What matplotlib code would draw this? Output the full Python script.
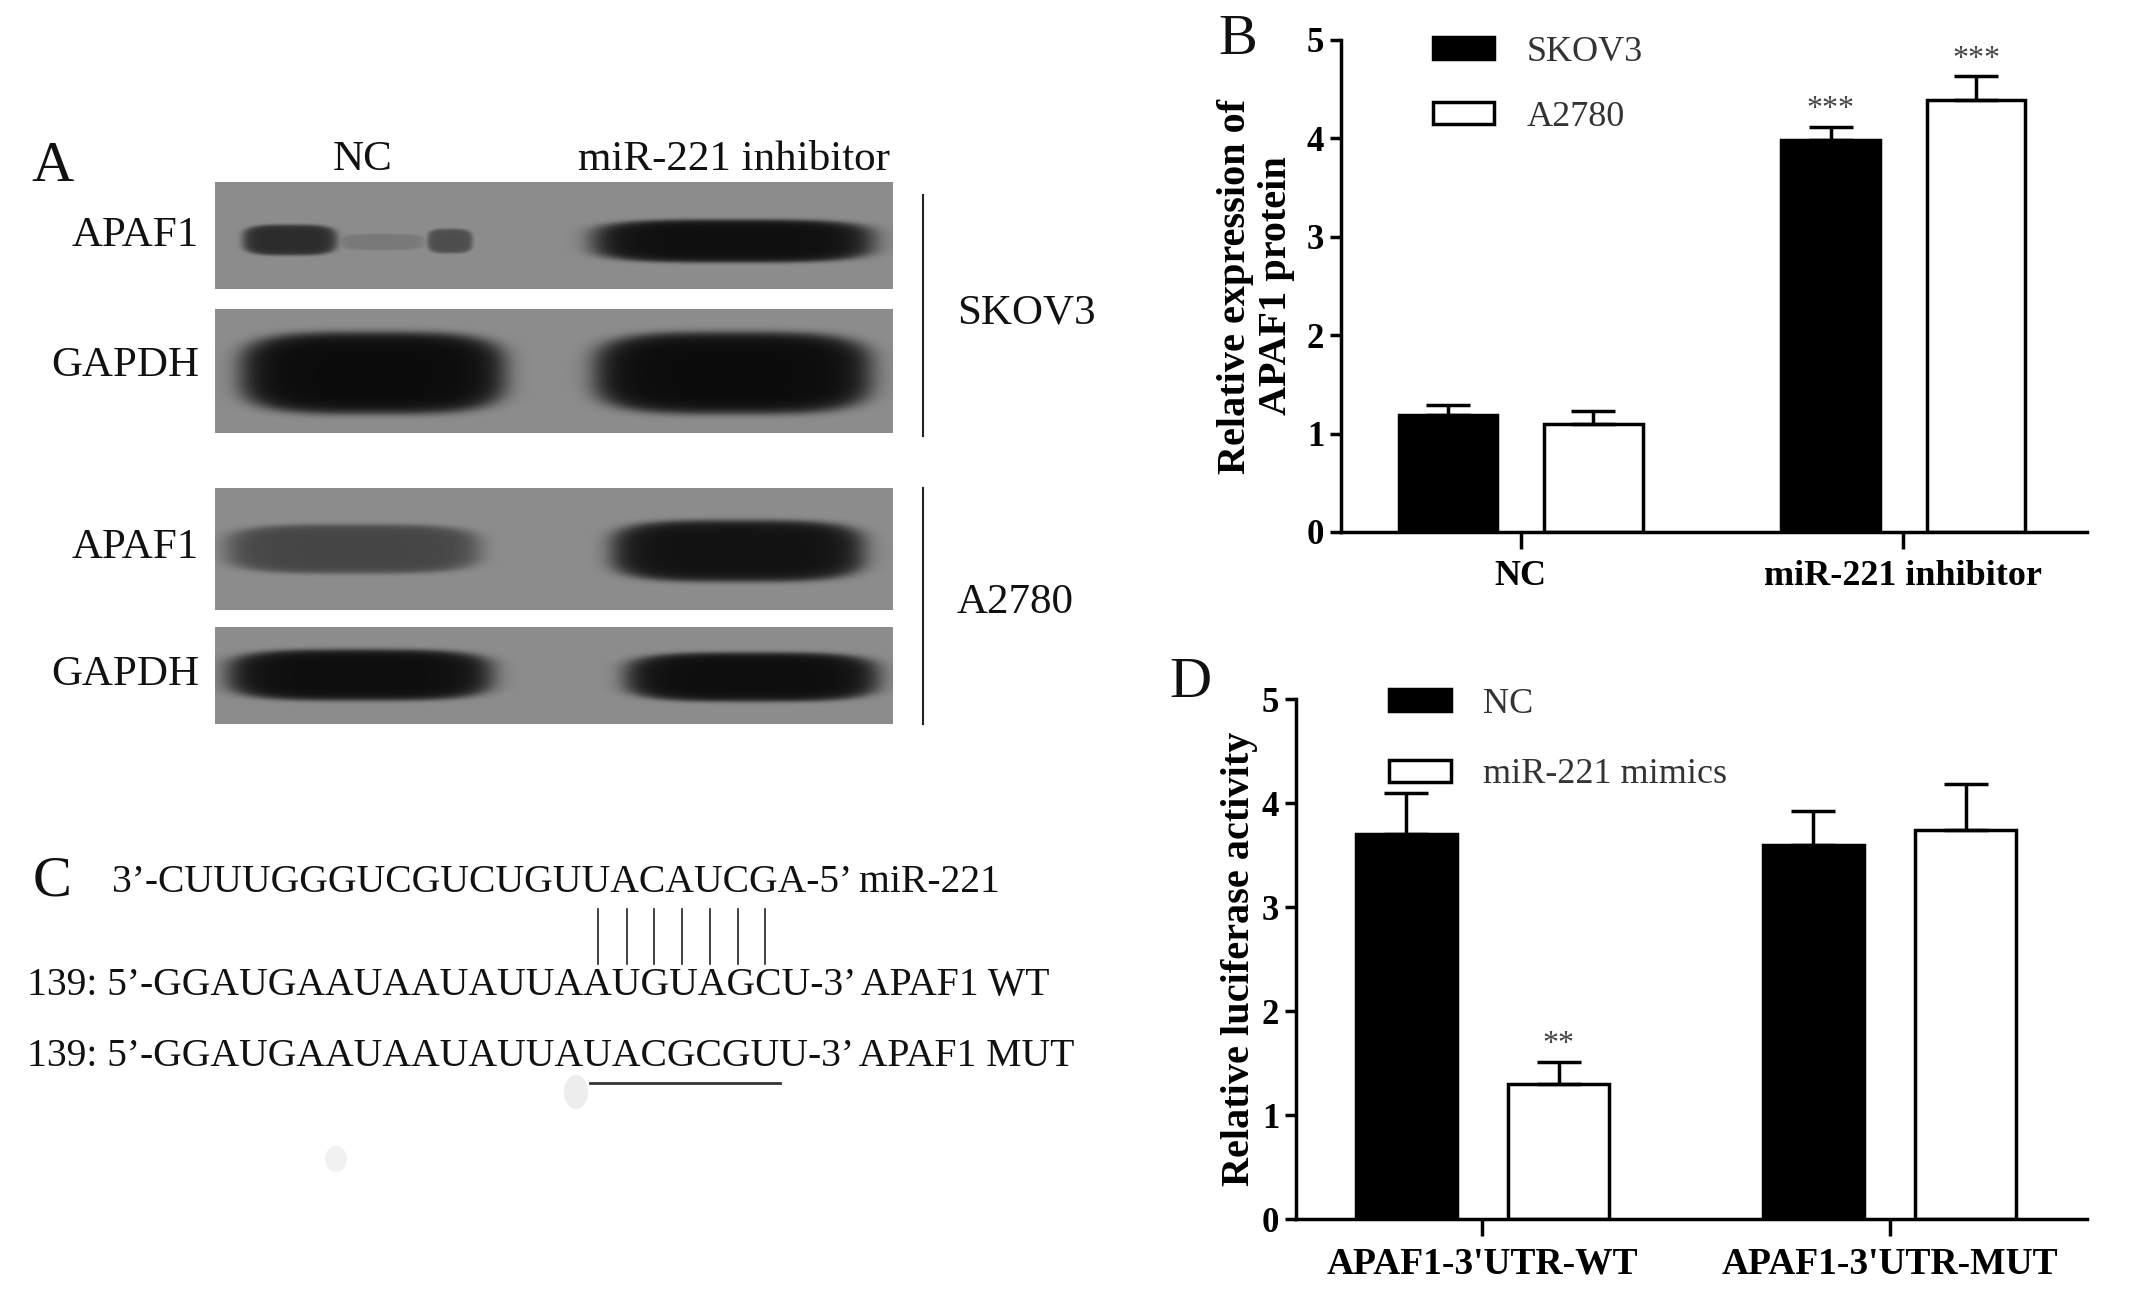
import numpy as np
import matplotlib
matplotlib.use("Agg")
import matplotlib.pyplot as plt
from matplotlib.patches import Ellipse

plt.rcParams['font.family'] = ['Liberation Serif', 'DejaVu Serif']

W, H = 2150, 1297

# ---- panel B: relative APAF1 protein expression ----
b_groups = ["NC", "miR-221 inhibitor"]
b_series = ["SKOV3", "A2780"]
b_skov3 = [1.19, 3.98]
b_skov3_err = [0.10, 0.14]
b_a2780 = [1.10, 4.39]
b_a2780_err = [0.13, 0.24]
b_skov3_stars = ["", "***"]
b_a2780_stars = ["", "***"]

# ---- panel D: luciferase reporter ----
d_groups = ["APAF1-3'UTR-WT", "APAF1-3'UTR-MUT"]
d_series = ["NC", "miR-221 mimics"]
d_nc = [3.70, 3.60]
d_nc_err = [0.40, 0.32]
d_mimic = [1.30, 3.74]
d_mimic_err = [0.21, 0.44]
d_nc_stars = ["", ""]
d_mimic_stars = ["**", ""]

# ---- panel A: western blot band strengths (0 = none, 1 = black) ----
blot_rows = ["APAF1", "GAPDH", "APAF1", "GAPDH"]
blot_lanes = ["NC", "miR-221 inhibitor"]
blot_cells = ["SKOV3", "A2780"]
band_strength = [[0.75, 0.97], [1.0, 1.0], [0.55, 0.95], [0.98, 0.98]]

# ---- panel C: sequences ----
seq_mir = "CUUUGGGUCGUCUGUUACAUCGA"
seq_wt = "GGAUGAAUAAUAUUAAUGUAGCU"
seq_mut = "GGAUGAAUAAUAUUAUACGCGUU"
pair_start, pair_end = 15, 21

fig = plt.figure(figsize=(W / 100, H / 100), dpi=100)
bg = fig.add_axes([0, 0, 1, 1])
bg.axis('off')


def blot(x0, x1, y0, y1, bands):
    xs = np.arange(x0, x1) + 0.5
    ys = np.arange(y0, y1) + 0.5
    X, Y = np.meshgrid(xs, ys)
    dark = np.zeros_like(X)
    for cx, cy, rx, ry, k in bands:
        d = np.abs((X - cx) / rx) ** 3.5 + np.abs((Y - cy) / ry) ** 3.5
        dark = np.maximum(dark, k / (1 + np.exp((d - 1) / 0.22)))
    img = 0.55 - 0.51 * dark
    bg.imshow(img, cmap='gray', vmin=0, vmax=1, extent=(x0, x1, y1, y0),
              aspect='auto', interpolation='bilinear')


# band layouts per blot strip (pixel boxes), strengths come from band_strength
s = band_strength
blot(215, 893, 182, 289, [(290, 240, 46, 15, s[0][0]), (382, 242, 42, 8, 0.2 * s[0][0]),
                          (450, 241, 22, 12, 0.65 * s[0][0]), (733, 241, 138, 21, s[0][1])])
blot(215, 893, 309, 433, [(373, 373, 130, 40, s[1][0]), (733, 373, 136, 40, s[1][1])])
blot(215, 893, 488, 610, [(353, 549, 124, 24, s[2][0]), (738, 551, 124, 30, s[2][1])])
blot(215, 893, 627, 724, [(360, 675, 130, 25, s[3][0]), (752, 677, 124, 24, s[3][1])])
bg.set_xlim(0, W)
bg.set_ylim(H, 0)

txt = dict(ha='center', va='center', color='#111')
bg.text(52, 167, "A", fontsize=42, **txt)
bg.text(363, 160, blot_lanes[0], fontsize=31, **txt)
bg.text(734, 160, blot_lanes[1], fontsize=31, **txt)
for lab, yc in zip(blot_rows, [236, 366, 548, 675]):
    bg.text(199, yc, lab, fontsize=31, ha='right', va='center', color='#111')
bg.plot([923, 923], [195, 436], color='#222', lw=1.5)
bg.plot([923, 923], [488, 724], color='#222', lw=1.5)
bg.text(1026, 313, blot_cells[0], fontsize=31, **txt)
bg.text(1015, 603, blot_cells[1], fontsize=31, **txt)

# panel C
bg.text(52, 882, "C", fontsize=42, **txt)
cfs = 28.5
line1 = "3’-" + seq_mir + "-5’ miR-221"
bg.text(112, 882, line1, fontsize=cfs, ha='left', va='center', color='#111')
bg.text(27, 985, "139: 5’-" + seq_wt + "-3’ APAF1 WT", fontsize=cfs, ha='left', va='center', color='#111')
bg.text(27, 1056, "139: 5’-" + seq_mut + "-3’ APAF1 MUT", fontsize=cfs, ha='left', va='center', color='#111')

r = fig.canvas.get_renderer()


def text_w(st):
    t = bg.text(0, 0, st, fontsize=cfs)
    w = t.get_window_extent(renderer=r).width
    t.remove()
    return w


for i in range(pair_start, pair_end + 1):
    left = 112 + text_w("3’-" + seq_mir[:i])
    xc = left + text_w(seq_mir[i]) / 2
    bg.plot([xc + 2, xc + 2], [909, 964], color='#222', lw=1.2)
u0 = 112 + text_w("3’-" + seq_mir[:pair_start]) + 8
u1 = 112 + text_w("3’-" + seq_mir[:pair_end + 1]) + 2
bg.plot([u0, u1], [1083, 1083], color='#333', lw=2)
bg.add_patch(Ellipse((576, 1092), 24, 34, color='#ededed', lw=0))
bg.add_patch(Ellipse((336, 1159), 22, 26, color='#f1f1f1', lw=0))
bg.text(1238, 40, "B", fontsize=42, **txt)
bg.text(1190, 683, "D", fontsize=42, **txt)


def bar_panel(rect, groups, series, v1, e1, v2, e2, st1, st2, off, width, xlim,
              ylabel, ylab_x, leg_anchor, leg_space, lab_fs):
    ax = fig.add_axes(rect)
    x = np.arange(len(groups))
    h1 = ax.bar(x - off, v1, width, color='black', edgecolor='black', linewidth=2.5, label=series[0])
    h2 = ax.bar(x + off, v2, width, color='white', edgecolor='black', linewidth=2.5, label=series[1])
    for xs, vs, es, ss in [(x - off, v1, e1, st1), (x + off, v2, e2, st2)]:
        ax.errorbar(xs, vs, yerr=[np.zeros(len(vs)), es], fmt='none', ecolor='black',
                    elinewidth=2.5, capsize=16, capthick=2.5, zorder=3)
        for xi, vi, ei, si in zip(xs, vs, es, ss):
            if si:
                ax.text(xi, vi + ei + 0.17, si, ha='center', va='center', fontsize=23, color='#444')
    ax.set_xlim(*xlim)
    ax.set_ylim(0, 5)
    ax.set_yticks(range(6))
    ax.set_xticks(x)
    ax.set_xticklabels(groups, fontweight='bold', fontsize=lab_fs)
    for lab in ax.get_yticklabels():
        lab.set_fontweight('bold')
        lab.set_fontsize(25)
    ax.spines['top'].set_visible(False)
    ax.spines['right'].set_visible(False)
    ax.spines['left'].set_linewidth(2.5)
    ax.spines['bottom'].set_linewidth(2.5)
    ax.tick_params(axis='x', length=12, width=2.5, pad=8)
    ax.tick_params(axis='y', length=8, width=2.5, pad=4)
    ax.set_ylabel(ylabel, fontweight='bold', fontsize=29, linespacing=1.15)
    ax.yaxis.set_label_coords(ylab_x, 0.5)
    ax.legend(handles=[h1, h2], loc='upper left', bbox_to_anchor=leg_anchor, frameon=False,
              fontsize=26, handlelength=1.7, handleheight=0.55, labelspacing=leg_space,
              handletextpad=0.9, borderpad=0, borderaxespad=0, labelcolor='#333')
    return ax


bar_panel([1341 / W, 1 - 532 / H, 746 / W, 492 / H], b_groups, b_series,
          b_skov3, b_skov3_err, b_a2780, b_a2780_err, b_skov3_stars, b_a2780_stars,
          0.19, 0.258, (-0.47, 1.48), "Relative expression of\nAPAF1 protein", -0.062,
          (0.123, 1.008), 0.88, 26)
bar_panel([1296 / W, 1 - 1219 / H, 791 / W, 520 / H], d_groups, d_series,
          d_nc, d_nc_err, d_mimic, d_mimic_err, d_nc_stars, d_mimic_stars,
          0.187, 0.248, (-0.458, 1.485), "Relative luciferase activity", -0.048,
          (0.118, 1.022), 1.05, 27)

fig.savefig("out.png", dpi=100)
